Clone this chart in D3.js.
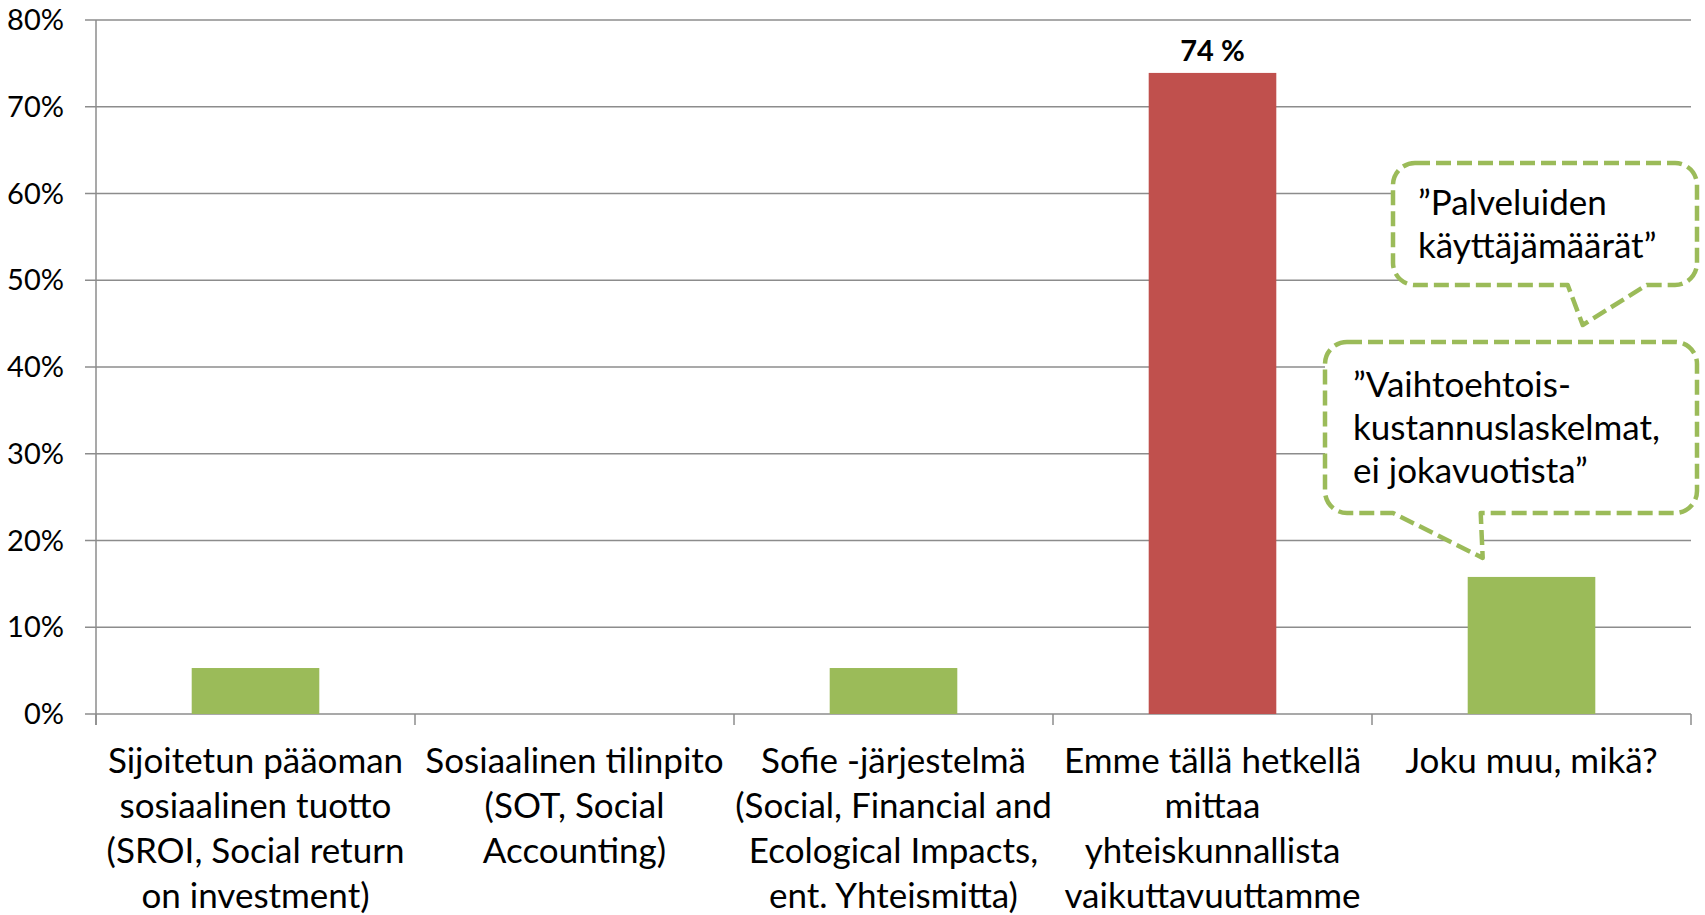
<!DOCTYPE html>
<head>
  <meta charset="utf-8">
  <title>Yhteiskunnallisen vaikuttavuuden mittaaminen</title>
  <script src="https://d3js.org/d3.v7.min.js"></script>
  <style>
    body { margin: 0; background: #fff; }
    svg { display: block; font-family: Lato, "Open Sans", sans-serif; }
  </style>
</head>
<body>
<svg width="1705" height="915"></svg>
<script>

// The data: one value (percent of answers) per category
var categories = [
  "Sijoitetun pääoman sosiaalinen tuotto (SROI, Social return on investment)",
  "Sosiaalinen tilinpito (SOT, Social Accounting)",
  "Sofie -järjestelmä (Social, Financial and Ecological Impacts, ent. Yhteismitta)",
  "Emme tällä hetkellä mittaa yhteiskunnallista vaikuttavuuttamme",
  "Joku muu, mikä?"
];
var values = [5.3, 0, 5.3, 73.9, 15.8];

// How each category label is broken onto lines under the axis
var labelLines = [
  ["Sijoitetun pääoman", "sosiaalinen tuotto", "(SROI, Social return", "on investment)"],
  ["Sosiaalinen tilinpito", "(SOT, Social", "Accounting)"],
  ["Sofie -järjestelmä", "(Social, Financial and", "Ecological Impacts,", "ent. Yhteismitta)"],
  ["Emme tällä hetkellä", "mittaa", "yhteiskunnallista", "vaikuttavuuttamme"],
  ["Joku muu, mikä?"]
];

var yTicks = [0, 10, 20, 30, 40, 50, 60, 70, 80];

// The one bar that gets the red colour and a value label
var highlighted = categories[3];

// Free text answers shown in the speech bubbles next to "Joku muu"
var quoteA = ["\u201DPalveluiden", "käyttäjämäärät\u201D"];
var quoteB = ["\u201DVaihtoehtois-", "kustannuslaskelmat,", "ei jokavuotista\u201D"];

var svg = d3.select("svg");

var green = "#9BBB59", red = "#C0504D", gridColor = "#8C8C8C";

// Plot area edges (not called "top": that name is taken by window.top)
var plotLeft = 96, plotRight = 1691, plotTop = 20, plotBottom = 714;

var x = d3.scaleBand()
    .domain(categories)
    .range([plotLeft, plotRight])
    .paddingInner(0.6)
    .paddingOuter(0.3);

var y = d3.scaleLinear()
    .domain([0, 80])
    .range([plotBottom, plotTop]);

// Horizontal gridlines with the small tick on the left side
svg.append("g")
    .selectAll("line")
    .data(yTicks)
    .join("line")
    .attr("x1", plotLeft - 11)
    .attr("x2", plotRight)
    .attr("y1", function(d) { return y(d); })
    .attr("y2", function(d) { return y(d); })
    .attr("stroke", gridColor)
    .attr("stroke-width", 1.5);

// Y tick labels
svg.append("g")
    .selectAll("text")
    .data(yTicks)
    .join("text")
    .attr("x", 64)
    .attr("y", function(d) { return y(d) + 10; })
    .attr("text-anchor", "end")
    .attr("font-size", 29)
    .attr("fill", "#000")
    .text(function(d) { return d + "%"; });

// Vertical axis line
svg.append("line")
    .attr("x1", plotLeft).attr("x2", plotLeft)
    .attr("y1", plotTop).attr("y2", plotBottom + 11)
    .attr("stroke", gridColor)
    .attr("stroke-width", 1.5);

// Category tick marks at the band borders (below the zero line)
var borders = categories.map(function(c) { return x(c) - x.step() * x.paddingOuter(); });
borders.push(plotRight);
svg.append("g")
    .selectAll("line")
    .data(borders)
    .join("line")
    .attr("x1", function(d) { return d; })
    .attr("x2", function(d) { return d; })
    .attr("y1", plotBottom)
    .attr("y2", plotBottom + 11)
    .attr("stroke", gridColor)
    .attr("stroke-width", 1.5);

// Bars
svg.append("g")
    .selectAll("rect")
    .data(values)
    .join("rect")
    .attr("x", function(d, i) { return x(categories[i]); })
    .attr("width", x.bandwidth())
    .attr("y", function(d) { return y(d); })
    .attr("height", function(d) { return plotBottom - y(d); })
    .attr("fill", function(d, i) { return categories[i] === highlighted ? red : green; });

// Value label on the highlighted bar
var hi = categories.indexOf(highlighted);
svg.append("text")
    .attr("x", x(highlighted) + x.bandwidth() / 2)
    .attr("y", y(values[hi]) - 12)
    .attr("text-anchor", "middle")
    .attr("font-size", 29)
    .attr("font-weight", "bold")
    .text(d3.format(".0f")(values[hi]) + " %");

// Category labels, one tspan per line
svg.append("g")
    .selectAll("text")
    .data(labelLines)
    .join("text")
    .attr("text-anchor", "middle")
    .attr("font-size", 35)
    .attr("fill", "#000")
    .each(function(lines, i) {
      var cx = x(categories[i]) + x.bandwidth() / 2;
      d3.select(this).selectAll("tspan")
        .data(lines)
        .join("tspan")
        .attr("x", cx)
        .attr("y", function(d, j) { return 773 + j * 45; })
        .text(function(d) { return d; });
    });


function bubblePath(x0, y0, x1, y1, r, tailA, tip, tailB) {
  // rounded box with a pointed tail coming out of the bottom edge
  return "M" + (x0 + r) + "," + y0 +
    "H" + (x1 - r) + "A" + r + "," + r + " 0 0 1 " + x1 + "," + (y0 + r) +
    "V" + (y1 - r) + "A" + r + "," + r + " 0 0 1 " + (x1 - r) + "," + y1 +
    "H" + tailB + "L" + tip[0] + "," + tip[1] + "L" + tailA + "," + y1 +
    "H" + (x0 + r) + "A" + r + "," + r + " 0 0 1 " + x0 + "," + (y1 - r) +
    "V" + (y0 + r) + "A" + r + "," + r + " 0 0 1 " + (x0 + r) + "," + y0 + "Z";
}

function drawBubble(path, lines, tx, ty) {
  svg.append("path")
    .attr("d", path)
    .attr("fill", "#fff")
    .attr("stroke", green)
    .attr("stroke-width", 4.5)
    .attr("stroke-dasharray", "15 6")
    .attr("stroke-linejoin", "round");
  svg.append("text")
    .attr("font-size", 35)
    .selectAll("tspan")
    .data(lines)
    .join("tspan")
    .attr("x", tx)
    .attr("y", function(d, j) { return ty + j * 43; })
    .text(function(d) { return d; });
}

// Both bubbles point down at the "Joku muu" bar
var other = categories[4];
var bx = x(other);

drawBubble(bubblePath(1393, 163, 1697, 285, 22, bx + 100, [bx + 115, 325], bx + 179), quoteA, 1418, 215);
drawBubble(bubblePath(1325, 342, 1697, 513, 22, 1393, [bx + 15, y(values[4]) - 19], bx + 13), quoteB, 1353, 397);

</script>
</body>
</html>
